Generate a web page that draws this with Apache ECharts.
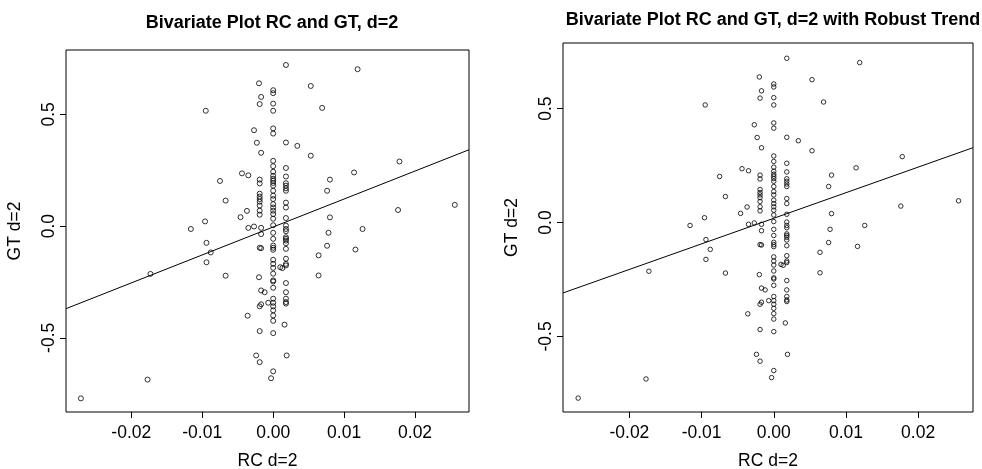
<!DOCTYPE html>
<html>
<head>
<meta charset="utf-8">
<title>Bivariate Plot RC and GT</title>
<script src="https://cdn.jsdelivr.net/npm/echarts@6/dist/echarts.min.js"></script>
<style>
  html, body { margin: 0; padding: 0; background: #fff; }
  #chart { width: 982px; height: 469px; }
</style>
</head>
<body>
<div id="chart"></div>
<script>
// RC d=2 (x) and GT d=2 (y)
const rcVals = [
  -0.0020, 0.0000, 0.0000, -0.0017, -0.0019, 0.0000, 0.0000, -0.0095, -0.0027, 0.0000,
  0.0000, -0.0023, -0.0017, 0.0018, 0.0119, 0.0053, 0.0069, 0.0018, 0.0034, 0.0053,
  0.0178, 0.0114, 0.0080, 0.0076, 0.0256, 0.0176, 0.0080, -0.0044, -0.0035, -0.0075,
  -0.0019, -0.0019, -0.0019, -0.0019, -0.0019, -0.0019, -0.0019, -0.0019, -0.0019, -0.0067,
  -0.0046, -0.0037, -0.0096,
  0.0018, 0.0018, 0.0018, 0.0018, 0.0018, 0.0018, 0.0018, 0.0018, 0.0018, 0.0018,
  0.0000, 0.0000, 0.0000, 0.0000, 0.0000, 0.0000, 0.0000, 0.0000, 0.0000, 0.0000,
  0.0000, 0.0000, 0.0000, 0.0000, 0.0000, 0.0000, 0.0000,
  0.0126, 0.0078, 0.0076, 0.0116, 0.0064, 0.0064, -0.0116, -0.0035, -0.0027, -0.0017,
  -0.0017, -0.0094, -0.0088, -0.0094, -0.0173, -0.0067, -0.0019, -0.0017, -0.0020, -0.0017,
  -0.0012, -0.0007, -0.0019, -0.0017, -0.0036, -0.0019, -0.0024, -0.0019, 0.0000, -0.0003,
  -0.0177, -0.0271, 0.0010, 0.0013, 0.0016, 0.0019,
  0.0018, 0.0018, 0.0018, 0.0018, 0.0018, 0.0018, 0.0018, 0.0018, 0.0018, 0.0018,
  0.0018, 0.0018, 0.0018, 0.0018, 0.0018,
  0.0000, 0.0000, 0.0000, 0.0000, 0.0000, 0.0000, 0.0000, 0.0000, 0.0000, 0.0000,
  0.0000, 0.0000, 0.0000, 0.0000, 0.0000, 0.0000, 0.0000, 0.0000, 0.0000
];
const gtVals = [
  0.639, 0.608, 0.595, 0.578, 0.546, 0.548, 0.516, 0.516, 0.429, 0.437,
  0.414, 0.373, 0.328, 0.721, 0.702, 0.627, 0.529, 0.374, 0.359, 0.315,
  0.289, 0.240, 0.208, 0.158, 0.095, 0.072, 0.039, 0.236, 0.227, 0.202,
  0.208, 0.191, 0.145, 0.132, 0.121, 0.109, 0.092, 0.069, 0.051, 0.114,
  0.040, 0.068, 0.021,
  0.260, 0.222, 0.192, 0.181, 0.169, 0.158, 0.105, 0.083, 0.036, 0.002,
  0.292, 0.268, 0.243, 0.225, 0.212, 0.203, 0.193, 0.181, 0.158, 0.136,
  0.121, 0.098, 0.083, 0.069, 0.054, 0.033, 0.004,
  -0.013, -0.030, -0.088, -0.105, -0.131, -0.221, -0.013, -0.008, -0.002, -0.008,
  -0.036, -0.075, -0.118, -0.162, -0.214, -0.222, -0.097, -0.099, -0.229, -0.288,
  -0.296, -0.343, -0.359, -0.350, -0.401, -0.470, -0.579, -0.609, -0.650, -0.681,
  -0.687, -0.771, -0.184, -0.188, -0.441, -0.579,
  -0.013, -0.023, -0.050, -0.057, -0.065, -0.077, -0.102, -0.146, -0.169, -0.176,
  -0.255, -0.296, -0.325, -0.340, -0.347,
  -0.030, -0.057, -0.087, -0.097, -0.106, -0.151, -0.169, -0.187, -0.213, -0.243,
  -0.248, -0.276, -0.325, -0.343, -0.359, -0.377, -0.400, -0.424, -0.479
];
const xTicks = [-0.02, -0.01, 0, 0.01, 0.02];
const yTicks = [-0.5, 0, 0.5];
// trend lines: [intercept, slope]
const lsFit = [-0.004, 12.52];
const robustFit = [0.0185, 11.23];
const titles = ['Bivariate Plot RC and GT, d=2', 'Bivariate Plot RC and GT, d=2 with Robust Trend'];

const xMin = -0.0292, xMax = 0.0276;
const yMin = -0.832, yMax = 0.788;
const font = 'Liberation Sans, Arial, Helvetica, sans-serif';

let points = rcVals.map((x, i) => [x, gtVals[i]]);
let lineData = (fit) => [[xMin, fit[0] + fit[1] * xMin], [xMax, fit[0] + fit[1] * xMax]];

let makeX = (idx) => ({
  type: 'value',
  gridIndex: idx,
  min: xMin,
  max: xMax,
  name: 'RC d=2',
  nameLocation: 'middle',
  nameGap: 40,
  nameTextStyle: { color: '#000', fontSize: 17.5, fontFamily: font },
  axisLine: { show: false, onZero: false },
  splitLine: { show: false },
  axisTick: { show: true, inside: false, length: 6, customValues: xTicks, lineStyle: { color: '#000', width: 1 } },
  axisLabel: {
    color: '#000', fontSize: 17.5, fontFamily: font, margin: 12,
    customValues: xTicks,
    formatter: (v) => v.toFixed(2)
  }
});
let makeY = (idx) => ({
  type: 'value',
  gridIndex: idx,
  min: yMin,
  max: yMax,
  name: 'GT d=2',
  nameLocation: 'middle',
  nameRotate: 90,
  nameGap: 42,
  nameTextStyle: { color: '#000', fontSize: 17.5, fontFamily: font },
  axisLine: { show: false, onZero: false },
  splitLine: { show: false },
  axisTick: { show: true, inside: false, length: 6, customValues: yTicks, lineStyle: { color: '#000', width: 1 } },
  axisLabel: {
    color: '#000', fontSize: 17.5, fontFamily: font, margin: 8, rotate: 90,
    customValues: yTicks,
    formatter: (v) => v.toFixed(1)
  }
});
let scatter = (idx, size) => ({
  type: 'scatter',
  xAxisIndex: idx,
  yAxisIndex: idx,
  symbol: 'circle',
  symbolSize: size,
  itemStyle: { color: 'rgba(0,0,0,0)', borderColor: '#000', borderWidth: 1 },
  data: points
});
let trend = (idx, fit) => ({
  type: 'line',
  xAxisIndex: idx,
  yAxisIndex: idx,
  showSymbol: false,
  symbol: 'none',
  clip: true,
  lineStyle: { color: '#000', width: 1 },
  data: lineData(fit)
});

let option = {
  animation: false,
  backgroundColor: '#fff',
  title: [
    { text: titles[0], left: 267, top: 9, textAlign: 'center',
      textStyle: { fontSize: 18, fontWeight: 'bold', color: '#000', fontFamily: font } },
    { text: titles[1], left: 768, top: 6, textAlign: 'center',
      textStyle: { fontSize: 18, fontWeight: 'bold', color: '#000', fontFamily: font } }
  ],
  grid: [
    { left: 66, right: 513, top: 50, bottom: 57, outerBoundsMode: 'none', show: true, borderColor: '#000', borderWidth: 1, backgroundColor: 'transparent' },
    { left: 563, right: 9, top: 43, bottom: 57, outerBoundsMode: 'none', show: true, borderColor: '#000', borderWidth: 1, backgroundColor: 'transparent' }
  ],
  xAxis: [makeX(0), makeX(1)],
  yAxis: [makeY(0), makeY(1)],
  series: [
    scatter(0, 5), trend(0, lsFit),
    scatter(1, 4.5), trend(1, robustFit)
  ]
};

let myChart = echarts.init(document.getElementById('chart'), null, { renderer: 'canvas' });
myChart.setOption(option);
</script>
</body>
</html>
